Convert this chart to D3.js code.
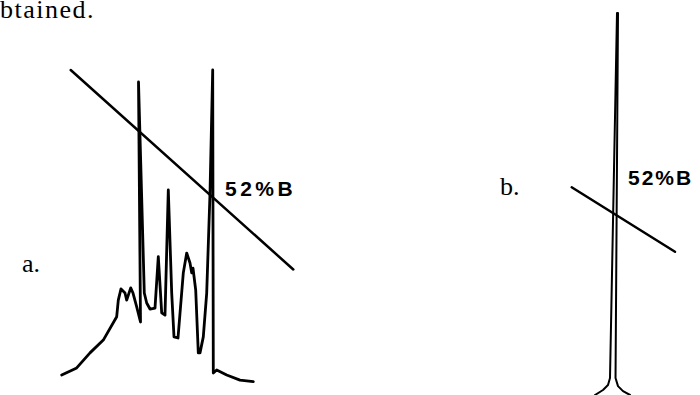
<!DOCTYPE html>
<html>
<head>
<meta charset="utf-8">
<script src="https://cdn.jsdelivr.net/npm/d3@7"></script>
<style>
  html, body { margin: 0; padding: 0; background: #fff; }
  svg { display: block; }
  .trace { fill: none; stroke: #000; stroke-linejoin: round; stroke-linecap: round; }
  .serif { font-family: 'Liberation Serif', 'Times New Roman', serif; fill: #000; }
  .pct { font-family: 'Liberation Sans', Arial, sans-serif; font-weight: bold; fill: #000; }
</style>
</head>
<body>
<div id="chart"></div>
<script>
// panel a: chromatogram (time in min, signal in % of full scale)
const timeA = [0.17, 1.67, 3.0, 4.33, 5.67, 5.83, 6.1, 6.5, 6.67, 7.07, 7.3, 7.67, 8.05,
  7.85, 8.43, 8.67, 9.0, 9.5, 9.83, 10.17, 10.5, 10.83, 11.17, 11.4, 11.8, 12.33, 12.67,
  13.0, 13.17, 13.3, 13.57, 13.83, 14.0, 14.33, 14.67, 15.0, 15.27, 15.33, 15.67, 16.67, 18.0, 19.33];
const signalA = [2.2, 4.4, 9.1, 13.1, 20.4, 25.6, 29.1, 27.8, 25.6, 29.4, 27.8, 23.5, 18.75,
  93.75, 27.8, 24.7, 22.8, 23.1, 39.2, 21.6, 20.9, 60.0, 27.8, 14.1, 13.75, 34.1, 40.3,
  37.2, 34.1, 35.6, 28.75, 9.1, 9.1, 14.1, 27.8, 59.0, 97.5, 2.8, 3.75, 2.2, 0.6, 0.1];
const gradTimeA = [1.07, 23.33];
const gradBA = [26.5, 66.4];

// panel b: purified product
const timeB = [6.875, 7.875, 8.5, 8.75, 9.625, 9.75, 9.44, 9.75, 10.375, 11.25];
const signalB = [0, 1.3, 2.6, 4.4, 99.2, 99.2, 4.4, 2.3, 1.0, 0];
const gradTimeB = [3.96, 16.875];
const gradBB = [46.7, 59.6];

const crossB = 52; // %B at which the product elutes
const labels = { top: 'btained.', a: 'a.', b: 'b.', cross: crossB + '%B' };

const W = 700, H = 395;
const svg = d3.select('#chart').append('svg').attr('width', W).attr('height', H);

// scales, panel a
const xA = d3.scaleLinear().domain([0, 20]).range([60, 260]);
const yA = d3.scaleLinear().domain([0, 100]).range([382, 62]);
const bA = d3.scaleLinear().domain([20, 80]).range([37.5, 337.5]);

// scales, panel b
const xB = d3.scaleLinear().domain([0, 20]).range([540, 700]);
const yB = d3.scaleLinear().domain([0, 100]).range([395, 10]);
const bB = d3.scaleLinear().domain([40, 70]).range([153.8, 303.8]);

const lineA = d3.line().x(i => xA(timeA[i])).y(i => yA(signalA[i]));
const gradLineA = d3.line().x(i => xA(gradTimeA[i])).y(i => bA(gradBA[i]));
const lineB = d3.line().x(i => xB(timeB[i])).y(i => yB(signalB[i]));
const gradLineB = d3.line().x(i => xB(gradTimeB[i])).y(i => bB(gradBB[i]));

svg.append('path').attr('class', 'trace').attr('stroke-width', 2.8)
  .attr('d', lineA(d3.range(timeA.length)));
svg.append('path').attr('class', 'trace').attr('stroke-width', 2.5)
  .attr('d', gradLineA(d3.range(gradTimeA.length)));

svg.append('path').attr('class', 'trace').attr('stroke-width', 2)
  .attr('d', lineB(d3.range(timeB.length)));
svg.append('path').attr('class', 'trace').attr('stroke-width', 2.5)
  .attr('d', gradLineB(d3.range(gradTimeB.length)));

// text
svg.append('text').attr('class', 'serif').attr('x', 0).attr('y', 18)
  .attr('font-size', 26).attr('letter-spacing', 1.5).text(labels.top);
svg.append('text').attr('class', 'serif').attr('x', 22).attr('y', 272)
  .attr('font-size', 26).text(labels.a);
svg.append('text').attr('class', 'serif').attr('x', 500).attr('y', 195)
  .attr('font-size', 26).text(labels.b);

svg.append('text').attr('class', 'pct').attr('x', 225).attr('y', 196)
  .attr('font-size', 21).attr('letter-spacing', 3.5).text(labels.cross);
svg.append('text').attr('class', 'pct').attr('x', 628).attr('y', 185)
  .attr('font-size', 21).attr('letter-spacing', 2).text(labels.cross);
</script>
</body>
</html>
